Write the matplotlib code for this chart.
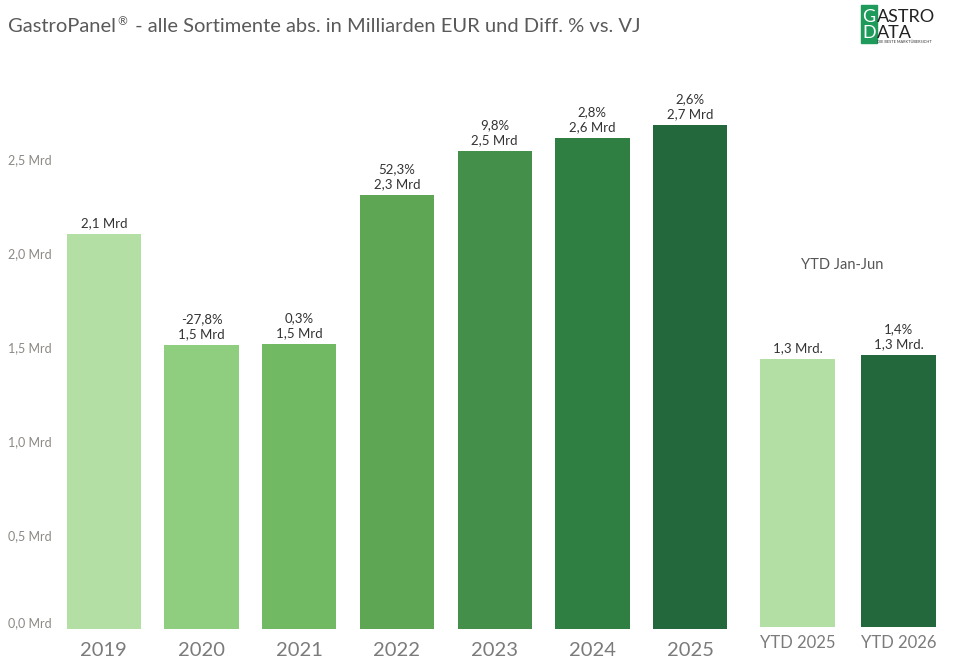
import matplotlib
matplotlib.use("Agg")
import matplotlib.pyplot as plt
from matplotlib.patches import Rectangle

plt.rcParams['font.family'] = ['Lato', 'DejaVu Sans']

# ---- data ----
years = ["2019", "2020", "2021", "2022", "2023", "2024", "2025"]
values = [2.10, 1.51, 1.515, 2.31, 2.54, 2.61, 2.68]          # Mrd EUR
value_labels = ["2,1 Mrd", "1,5 Mrd", "1,5 Mrd", "2,3 Mrd", "2,5 Mrd", "2,6 Mrd", "2,7 Mrd"]
pct_labels = ["", "-27,8%", "0,3%", "52,3%", "9,8%", "2,8%", "2,6%"]
year_colors = ["#b3dfa5", "#8fce7e", "#72b963", "#5ea653", "#44904b", "#2e7f41", "#23683c"]

ytd_cats = ["YTD 2025", "YTD 2026"]
ytd_values = [1.30, 1.318]
ytd_value_labels = ["1,3 Mrd.", "1,3 Mrd."]
ytd_pct_labels = ["", "1,4%"]
ytd_colors = ["#b3dfa5", "#23683c"]

yticks = [0.0, 0.5, 1.0, 1.5, 2.0, 2.5]
ytick_labels = ["0,0 Mrd", "0,5 Mrd", "1,0 Mrd", "1,5 Mrd", "2,0 Mrd", "2,5 Mrd"]

W, H = 954, 661
fig = plt.figure(figsize=(W / 100, H / 100), dpi=100)

def fx(px):
    return px / W

def fy(py):
    return 1 - py / H

top_px = 60
base_main = 629
base_ytd = 627

ax = fig.add_axes([fx(55), fy(base_main), fx(739 - 55), (base_main - top_px) / H])
ax2 = fig.add_axes([fx(747), fy(base_ytd), fx(949 - 747), (base_ytd - top_px) / H])

LBL_FS = 9.5

# main chart
x = list(range(len(years)))
ax.bar(x, values, width=0.76, color=year_colors)
ax.set_xlim(-0.5, len(years) - 0.5)
ax.set_ylim(0, (base_main - top_px) / 188.0)
for xi, v, vl, pl in zip(x, values, value_labels, pct_labels):
    txt = vl if pl == "" else pl + "\n" + vl
    ax.annotate(txt, (xi, v), xytext=(0, 3.5), textcoords="offset points",
                ha="center", va="bottom", fontsize=LBL_FS, color="#333333", linespacing=1.3)

ax.set_xticks(x)
ax.set_xticklabels(years, fontsize=14.5, color="#7b7b7b")
ax.tick_params(axis="x", length=0, pad=9)
ax.set_yticks(yticks)
ax.set_yticklabels(ytick_labels, fontsize=9, color="#8c8884")
ax.tick_params(axis="y", length=0, pad=34)
for lbl in ax.get_yticklabels():
    lbl.set_horizontalalignment("left")
for s in ax.spines.values():
    s.set_visible(False)
ax.get_yticklabels()[0].set_verticalalignment("bottom")

# YTD chart
x2 = list(range(len(ytd_cats)))
ax2.bar(x2, ytd_values, width=0.74, color=ytd_colors)
ax2.set_xlim(-0.5, len(ytd_cats) - 0.5)
ax2.set_ylim(0, (base_ytd - top_px) / (268 / ytd_values[0]))
for xi, v, vl, pl in zip(x2, ytd_values, ytd_value_labels, ytd_pct_labels):
    txt = vl if pl == "" else pl + "\n" + vl
    ax2.annotate(txt, (xi, v), xytext=(0, 3.5), textcoords="offset points",
                 ha="center", va="bottom", fontsize=LBL_FS, color="#333333", linespacing=1.3)
ax2.set_xticks(x2)
ax2.set_xticklabels(ytd_cats, fontsize=12, color="#7b7b7b")
ax2.tick_params(axis="x", length=0, pad=6)
ax2.set_yticks([])
for s in ax2.spines.values():
    s.set_visible(False)

fig.text(fx(842), fy(265), "YTD Jan-Jun", ha="center", va="center", fontsize=10.5, color="#555555")

# title
TFS = 14.5
t1 = fig.text(fx(8), fy(27), "GastroPanel", ha="left", va="center", fontsize=TFS, color="#5a5a5a")
fig.canvas.draw()
bb = t1.get_window_extent()
fig.text(bb.x1 / W + 1 / W, fy(22), "\u00ae", ha="left", va="center", fontsize=8.5, color="#5a5a5a")
fig.text(bb.x1 / W + 14 / W, fy(27), " - alle Sortimente abs. in Milliarden EUR und Diff. % vs. VJ",
         ha="left", va="center", fontsize=TFS, color="#5a5a5a")

# logo
fig.patches.append(Rectangle((fx(861), fy(43)), fx(877) - fx(861), fy(5) - fy(43),
                             transform=fig.transFigure, color="#1e9a5a", zorder=1))
fig.text(fx(862), fy(17), "G", ha="left", va="center", fontsize=13, color="white", zorder=3)
fig.text(fx(877), fy(17), "ASTRO", ha="left", va="center", fontsize=13, color="#222222", zorder=3)
fig.text(fx(862), fy(33), "D", ha="left", va="center", fontsize=13, color="white", zorder=3)
fig.text(fx(877), fy(33), "ATA", ha="left", va="center", fontsize=13, color="#222222", zorder=3)
fig.text(fx(877), fy(42), "DIE BESTE MARKTÜBERSICHT", ha="left", va="center", fontsize=2.8, color="#333333")

fig.savefig("out.png", dpi=100)
